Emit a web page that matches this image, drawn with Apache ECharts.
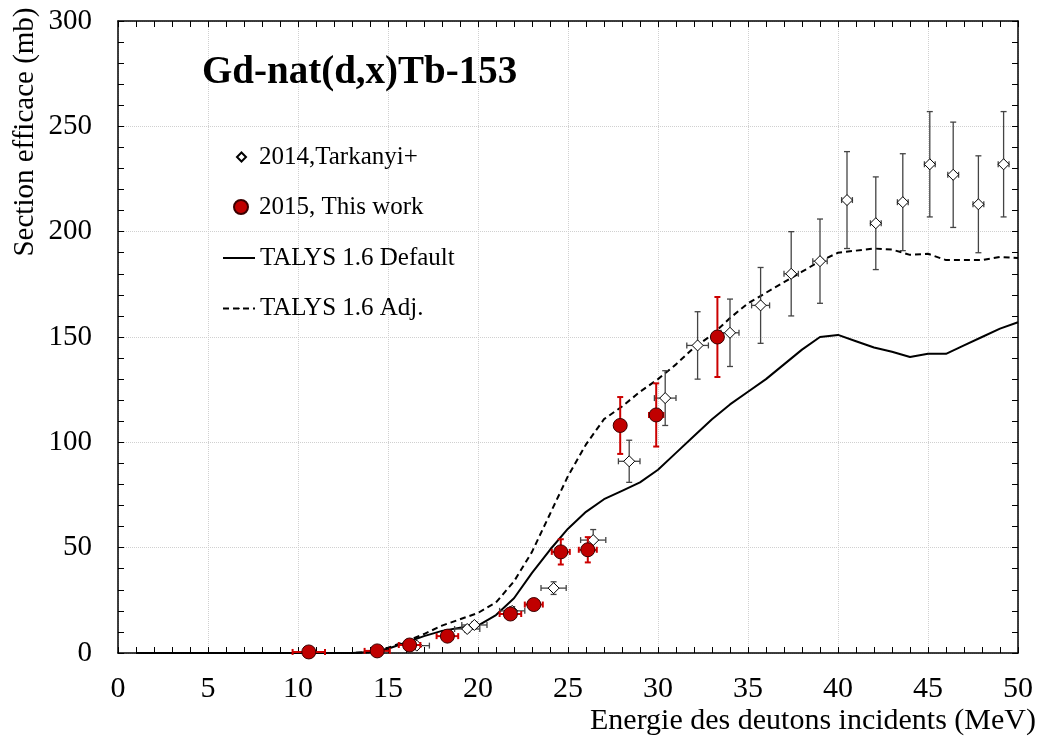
<!DOCTYPE html>
<html>
<head>
<meta charset="utf-8">
<title>Gd-nat(d,x)Tb-153</title>
<script type="text/javascript" src="https://cdn.jsdelivr.net/npm/echarts@6/dist/echarts.min.js"></script>
<style>
	html, body { margin: 0; padding: 0; background: #fff; }
	#container { width: 1040px; height: 737px; }
</style>
</head>
<body>
<div id="container"></div>
<script type="text/javascript">
	// 2014, Tarkanyi+ : energie (MeV), section (mb), erreurs
	var tarkE   = [16.6, 19.4, 19.8, 21.9, 24.2, 26.4, 28.4, 30.4, 32.2, 34.0, 35.7, 37.4, 39.0, 40.5, 42.1, 43.6, 45.1, 46.4, 47.8, 49.2];
	var tarkXS  = [3.5, 11.4, 13.3, 20, 30.8, 53.6, 91, 121, 146, 152, 165, 180, 186, 215, 204, 214, 232, 227, 213, 232];
	var tarkDE  = [0.7, 0.7, 0.7, 0.7, 0.7, 0.7, 0.6, 0.6, 0.6, 0.5, 0.5, 0.4, 0.4, 0.3, 0.3, 0.3, 0.3, 0.3, 0.3, 0.3];
	var tarkDXS = [1, 1.5, 1.5, 2, 3, 5, 10, 13, 16, 16, 18, 20, 20, 23, 22, 23, 25, 25, 23, 25];

	// 2015, This work
	var workE   = [10.6, 14.4, 16.2, 18.3, 21.8, 23.1, 24.6, 26.1, 27.9, 29.9, 33.3];
	var workXS  = [0.5, 1, 3.8, 8, 18.5, 23, 48, 49, 108, 113, 150];
	var workDE  = [0.9, 0.7, 0.6, 0.6, 0.6, 0.5, 0.5, 0.5, 0.3, 0.4, 0.3];
	var workDXS = [0.5, 0.5, 1, 1, 2, 2, 6, 6, 13.5, 15, 19];

	// TALYS 1.6
	var talysE   = [1, 13, 14, 15, 16, 17, 18, 19, 20, 21, 22, 23, 24, 25, 26, 27, 28, 29, 30, 31, 32, 33, 34, 35, 36, 37, 38, 39, 40, 41, 42, 43, 44, 45, 46, 47, 48, 49, 50];
	var talysDef = [0, 0, 0.5, 2, 5, 8, 10.5, 12, 13, 18, 26, 38, 49, 59, 67, 73, 77, 81, 87, 95, 103, 111, 118, 124, 130, 137, 144, 150, 151, 148, 145, 143, 140.5, 142, 142, 146, 150, 154, 157];
	var talysAdj = [0, 0, 0.5, 2.5, 5.5, 9, 13, 16, 19, 24, 34, 48, 66, 84, 99, 111, 117, 124, 130, 137, 145, 151, 159, 166, 171, 176, 181, 186, 190, 191, 192, 191.5, 189, 189.5, 186.5, 186.5, 186.5, 188, 187.5];

	var xTicks = [0, 50, 5];
	var yTicks = [0, 300, 50];

	var serif = 'Liberation Serif';

	function zip() {
		var arrs = arguments, out = [];
		for (var i = 0; i < arrs[0].length; i++) {
			var row = [];
			for (var j = 0; j < arrs.length; j++) row.push(arrs[j][i]);
			out.push(row);
		}
		return out;
	}

	function errBars(color, width, cap) {
		return function (params, api) {
			var x = api.value(0), y = api.value(1), dx = api.value(2), dy = api.value(3);
			var c = api.coord([x, y]);
			var l = api.coord([x - dx, y]), r = api.coord([x + dx, y]);
			var t = api.coord([x, y + dy]), b = api.coord([x, Math.max(0, y - dy)]);
			var st = { stroke: color, lineWidth: width };
			return {
				type: 'group',
				children: [
					{ type: 'line', shape: { x1: l[0], y1: c[1], x2: r[0], y2: c[1] }, style: st },
					{ type: 'line', shape: { x1: l[0], y1: c[1] - cap, x2: l[0], y2: c[1] + cap }, style: st },
					{ type: 'line', shape: { x1: r[0], y1: c[1] - cap, x2: r[0], y2: c[1] + cap }, style: st },
					{ type: 'line', shape: { x1: c[0], y1: t[1], x2: c[0], y2: b[1] }, style: st },
					{ type: 'line', shape: { x1: c[0] - cap, y1: t[1], x2: c[0] + cap, y2: t[1] }, style: st },
					{ type: 'line', shape: { x1: c[0] - cap, y1: b[1], x2: c[0] + cap, y2: b[1] }, style: st }
				]
			};
		};
	}

	function axisX(pos) {
		return {
			type: 'value', position: pos, min: xTicks[0], max: xTicks[1], interval: xTicks[2],
			axisLine: { show: true, onZero: false, lineStyle: { color: '#000', width: 1.5 } },
			axisTick: { show: true, inside: true, length: 6, lineStyle: { color: '#000', width: 1 } },
			minorTick: { show: true, splitNumber: 5, length: 6, lineStyle: { color: '#000', width: 1 } },
			splitLine: { show: pos === 'bottom', lineStyle: { color: '#d0d0d0', type: 'dotted', width: 1 } },
			axisLabel: { show: pos === 'bottom', fontFamily: serif, fontSize: 30, color: '#000', margin: 21 }
		};
	}
	function axisY(pos) {
		return {
			type: 'value', position: pos, min: yTicks[0], max: yTicks[1], interval: yTicks[2],
			axisLine: { show: true, onZero: false, lineStyle: { color: '#000', width: 1.5 } },
			axisTick: { show: true, inside: true, length: 6, lineStyle: { color: '#000', width: 1 } },
			minorTick: { show: true, splitNumber: 5, length: 6, lineStyle: { color: '#000', width: 1 } },
			splitLine: { show: pos === 'left', lineStyle: { color: '#d0d0d0', type: 'dotted', width: 1 } },
			axisLabel: { show: pos === 'left', fontFamily: serif, fontSize: 29, color: '#000', margin: 26 }
		};
	}

	var legendText = { fontFamily: serif, fontSize: 25, lineHeight: 26, color: '#000' };

	var chart = echarts.init(document.getElementById('container'));
	var option = {
		animation: false,
		backgroundColor: '#fff',
		textStyle: { fontFamily: serif },
		grid: { left: 118, right: 22, top: 21, bottom: 84 },
		title: {
			text: 'Gd-nat(d,x)Tb-153', left: 202, top: 53, padding: 0,
			textStyle: { fontFamily: serif, fontSize: 39, fontWeight: 'bold', color: '#000' }
		},
		legend: [{
			data: [{ name: '2014,Tarkanyi+', icon: 'diamond' }], orient: 'vertical', left: 236, top: 144, padding: 0,
			itemWidth: 9, itemHeight: 9,
			textStyle: Object.assign({ padding: [0, 0, 0, 8] }, legendText)
		}, {
			data: ['2015, This work'], orient: 'vertical', left: 233, top: 194, padding: 0,
			itemWidth: 14, itemHeight: 14,
			textStyle: Object.assign({ padding: [0, 0, 0, 6] }, legendText)
		}, {
			data: ['TALYS 1.6 Default', 'TALYS 1.6 Adj.'],
			orient: 'vertical', left: 222, top: 245, itemGap: 24.5, padding: 0,
			itemWidth: 32, itemHeight: 2,
			textStyle: legendText
		}],
		graphic: [{
			type: 'text', x: 25, y: 132, rotation: Math.PI / 2,
			style: { text: 'Section efficace (mb)', font: '29px "Liberation Serif"', fill: '#000', align: 'center', verticalAlign: 'middle' }
		}, {
			type: 'text', x: 1036, y: 721,
			style: { text: 'Energie des deutons incidents (MeV)', font: '30px "Liberation Serif"', fill: '#000', align: 'right', verticalAlign: 'middle' }
		}],
		xAxis: [axisX('bottom'), axisX('top')],
		yAxis: [axisY('left'), axisY('right')],
		series: [{
			name: 'TALYS 1.6 Default', type: 'line', symbol: 'none',
			data: zip(talysE, talysDef),
			lineStyle: { color: '#000', width: 2 }, itemStyle: { color: '#000' }, z: 2
		}, {
			name: 'TALYS 1.6 Adj.', type: 'line', symbol: 'none',
			data: zip(talysE, talysAdj),
			lineStyle: { color: '#000', width: 2, type: [6, 4] }, itemStyle: { color: '#000' }, z: 2
		}, {
			type: 'custom', renderItem: errBars('#444', 1.3, 3), z: 3,
			data: zip(tarkE, tarkXS, tarkDE, tarkDXS)
		}, {
			name: '2014,Tarkanyi+', type: 'scatter', symbol: 'diamond', symbolSize: 11,
			data: zip(tarkE, tarkXS),
			itemStyle: { color: '#fff', borderColor: '#000', borderWidth: 1, opacity: 1 }, z: 4
		}, {
			type: 'custom', renderItem: errBars('#cc0000', 2, 3), z: 5,
			data: zip(workE, workXS, workDE, workDXS)
		}, {
			name: '2015, This work', type: 'scatter', symbol: 'circle', symbolSize: 14,
			data: zip(workE, workXS),
			itemStyle: { color: '#c00000', borderColor: '#3a0000', borderWidth: 1, opacity: 1 }, z: 6
		}]
	};
	chart.setOption(option);
</script>
</body>
</html>
